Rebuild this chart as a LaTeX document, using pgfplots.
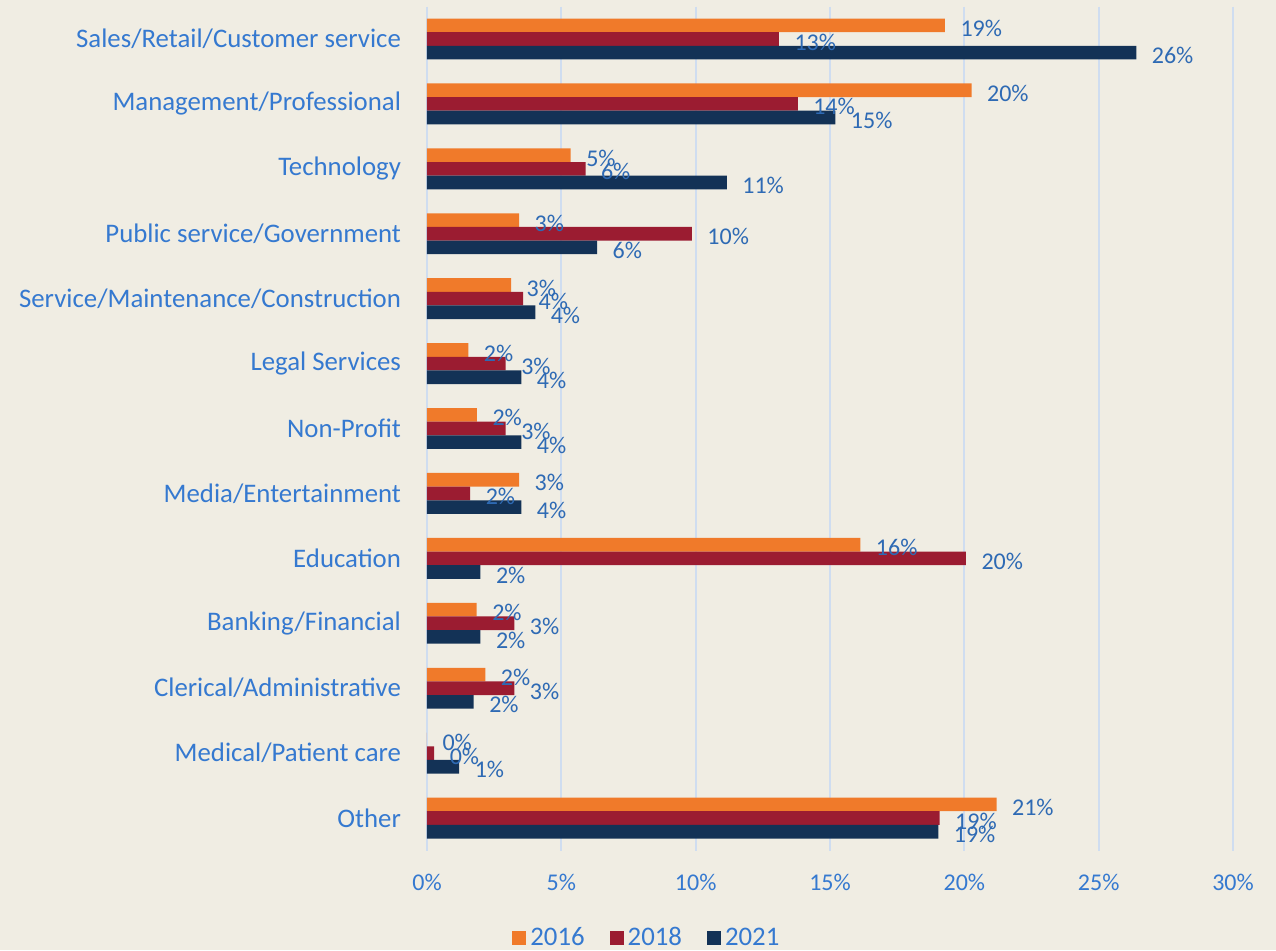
\documentclass[border=0pt]{standalone}
\usepackage{fontspec}
\setmainfont{Carlito}
\usepackage{pgfplots}
\pgfplotsset{compat=1.18}
\definecolor{bg}{HTML}{F0EDE3}
\definecolor{gridblue}{HTML}{CFDDF0}
\definecolor{c2016}{HTML}{F07A2A}
\definecolor{c2018}{HTML}{9B1C31}
\definecolor{c2021}{HTML}{133256}
\definecolor{catblue}{HTML}{3579D0}
\definecolor{lblblue}{HTML}{2E6AB4}
\begin{document}
\begin{tikzpicture}
\path[use as bounding box, fill=bg] (-213.5pt,-49.75pt) rectangle (424.5pt,425.25pt);
\begin{axis}[
  at={(0,0)}, anchor=south west,
  scale only axis, width=403pt, height=422pt,
  xbar, bar width=0.21,
  xmin=0, xmax=30, ymin=-0.5, ymax=12.5, y dir=reverse,
  /pgf/number format/assume math mode=true,
  xtick={0,5,...,30},
  xticklabel={\pgfmathprintnumber{\tick}\%},
  ytick={0,...,12},
  yticklabels={Sales/Retail/Customer service,Management/Professional,Technology,Public service/Government,Service/Maintenance/Construction,Legal Services,Non-Profit,Media/Entertainment,Education,Banking/Financial,Clerical/Administrative,Medical/Patient care,Other},
  axis line style={draw=none},
  major tick length=0pt,
  xmajorgrids, ymajorgrids=false,
  major grid style={color=gridblue, line width=1pt},
  xticklabel style={font=\fontsize{12}{14}\selectfont, text=catblue, yshift=-8.5pt},
  yticklabel style={font=\fontsize{13.4}{15}\selectfont, text=catblue, xshift=-9.5pt},
  nodes near coords={\pgfmathprintnumber[fixed,precision=0]{\pgfplotspointmeta}\%},
  point meta=x,
  every node near coord/.append style={anchor=west, xshift=4.25pt, yshift=-1.5pt, font=\fontsize{12}{14}\selectfont, text=lblblue},
  legend style={at={(0.274,-0.1035)}, anchor=center, legend columns=3, draw=none, fill=none,
    font=\fontsize{13.4}{15}\selectfont, text=catblue,
    /tikz/every even column/.append style={column sep=10.5pt}},
  legend image code/.code={\fill[#1] (0pt,-3.5pt) rectangle (7pt,3.5pt);},
]
\addplot[draw=none, fill=c2016, bar shift=-0.21] coordinates {
(19.28,0) (20.27,1) (5.35,2) (3.43,3) (3.13,4) (1.54,5) (1.86,6) (3.43,7) (16.13,8) (1.85,9) (2.17,10) (0,11) (21.2,12)};
\addplot[draw=none, fill=c2018, bar shift=0] coordinates {
(13.1,0) (13.8,1) (5.9,2) (9.86,3) (3.58,4) (2.93,5) (2.93,6) (1.61,7) (20.06,8) (3.25,9) (3.25,10) (0.27,11) (19.08,12)};
\addplot[draw=none, fill=c2021, bar shift=0.21] coordinates {
(26.4,0) (15.2,1) (11.16,2) (6.33,3) (4.03,4) (3.51,5) (3.51,6) (3.51,7) (1.99,8) (1.99,9) (1.74,10) (1.2,11) (19.03,12)};
\legend{2016,2018,2021}
\end{axis}
\end{tikzpicture}
\end{document}
